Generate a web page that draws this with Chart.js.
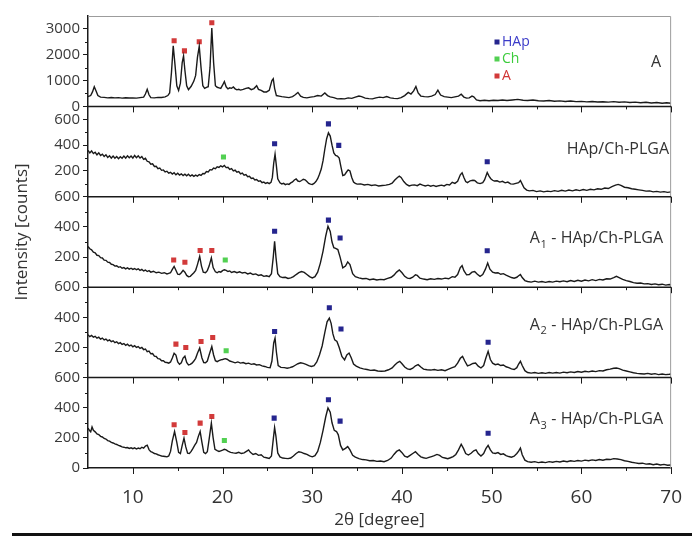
<!DOCTYPE html>
<html lang="en">
<head>
  <meta charset="UTF-8">
  <title>XRD - A, HAp/Ch-PLGA and A1-A3 composites</title>
  <script src="https://cdn.jsdelivr.net/npm/chart.js"></script>
  <style>
    body { margin: 0; background: #fff; }
    #wrap { position: relative; width: 692px; height: 536px; }
    #rule { position: absolute; left: 12px; right: 0; top: 533px; height: 3px; background: #111; }
  </style>
</head>
<body>
  <div id="wrap">
    <canvas id="xrd" width="692" height="536"></canvas>
    <div id="rule"></div>
  </div>

  <script>
    // diffractograms: [2theta, counts]
    const xrdA = [
      [5.0,380],[5.3,420],[5.5,560],[5.7,760],[5.9,600],[6.1,420],[6.4,360],[6.8,350],[7.2,330],[7.6,345],
      [8.0,330],[8.4,340],[8.8,320],[9.2,335],[9.6,325],[10.0,330],[10.4,320],[10.8,340],[11.2,360],[11.4,480],
      [11.6,660],[11.8,450],[12.0,340],[12.4,330],[12.8,350],[13.2,345],[13.6,370],[13.9,420],[14.1,520],[14.3,1300],
      [14.5,2350],[14.7,1600],[14.9,800],[15.1,620],[15.3,900],[15.5,1700],[15.65,1950],[15.8,1400],[16.0,800],[16.2,650],
      [16.5,780],[16.8,980],[17.0,1200],[17.2,1900],[17.4,2330],[17.6,1500],[17.8,800],[18.0,700],[18.2,740],[18.4,760],
      [18.6,1500],[18.8,3030],[19.0,1700],[19.2,800],[19.4,740],[19.6,720],[19.8,700],[20.0,820],[20.2,960],[20.4,760],
      [20.6,680],[20.8,720],[21.0,700],[21.2,750],[21.4,680],[21.6,640],[21.8,660],[22.0,630],[22.3,660],[22.6,700],
      [22.9,720],[23.2,650],[23.5,690],[23.8,800],[24.0,660],[24.3,620],[24.6,560],[24.9,560],[25.2,620],[25.5,1000],
      [25.65,1070],[25.8,700],[26.0,420],[26.3,400],[26.6,380],[27.0,360],[27.4,340],[27.8,380],[28.1,450],[28.4,540],
      [28.7,400],[29.0,350],[29.4,330],[29.8,360],[30.2,380],[30.6,420],[31.0,400],[31.4,520],[31.7,420],[32.0,370],
      [32.4,340],[32.8,290],[33.2,300],[33.6,290],[34.0,330],[34.4,310],[34.8,360],[35.2,400],[35.5,380],[35.9,320],
      [36.3,300],[36.7,290],[37.1,330],[37.5,360],[37.9,340],[38.3,380],[38.7,330],[39.1,310],[39.5,300],[39.9,340],
      [40.3,420],[40.7,540],[41.0,480],[41.3,600],[41.55,770],[41.8,520],[42.1,400],[42.5,380],[42.9,370],[43.3,400],
      [43.7,460],[44.0,630],[44.3,440],[44.7,380],[45.1,360],[45.5,340],[45.9,370],[46.3,400],[46.6,470],[46.9,360],
      [47.2,320],[47.5,330],[47.8,400],[48.0,370],[48.3,250],[48.7,220],[49.2,240],[49.7,220],[50.2,240],[50.7,230],
      [51.2,250],[51.7,230],[52.3,250],[52.9,270],[53.5,240],[54.0,230],[54.6,250],[55.2,220],[55.8,210],[56.4,230],
      [57.0,200],[57.6,215],[58.2,190],[58.8,210],[59.4,185],[60.0,195],[60.6,175],[61.2,190],[61.8,170],[62.4,180],
      [63.0,165],[63.6,185],[64.2,160],[64.8,175],[65.4,150],[66.0,165],[66.6,140],[67.2,160],[67.8,130],[68.4,150],
      [69.0,125],[69.5,140],[70.0,120]
    ];
    const xrdHAp = [
      [5.0,360],[5.2,340],[5.4,355],[5.6,335],[5.8,345],[6.0,325],[6.2,340],[6.4,320],[6.6,330],[6.8,312],
      [7.0,325],[7.2,305],[7.4,318],[7.6,300],[7.8,315],[8.0,298],[8.2,312],[8.4,295],[8.6,310],[8.8,298],
      [9.0,315],[9.2,300],[9.4,318],[9.6,302],[9.8,316],[10.0,300],[10.2,320],[10.4,303],[10.6,318],[10.8,300],
      [11.0,312],[11.2,290],[11.4,298],[11.6,275],[11.8,270],[12.0,252],[12.2,255],[12.4,235],[12.6,236],[12.8,218],
      [13.0,222],[13.2,205],[13.4,208],[13.6,192],[13.8,198],[14.0,183],[14.2,190],[14.4,176],[14.6,186],[14.8,170],
      [15.0,182],[15.2,168],[15.4,178],[15.6,165],[15.8,175],[16.0,162],[16.2,174],[16.4,160],[16.6,170],[16.8,158],
      [17.0,168],[17.2,160],[17.4,172],[17.6,165],[17.8,180],[18.0,178],[18.2,195],[18.4,192],[18.6,210],[18.8,208],
      [19.0,222],[19.2,218],[19.4,232],[19.6,228],[19.8,240],[20.0,232],[20.2,242],[20.4,226],[20.6,228],[20.8,212],
      [21.0,218],[21.2,200],[21.4,206],[21.6,190],[21.8,195],[22.0,178],[22.2,184],[22.4,168],[22.6,172],[22.8,155],
      [23.0,158],[23.2,142],[23.4,145],[23.6,130],[23.8,134],[24.0,120],[24.2,124],[24.4,110],[24.6,114],[24.8,103],
      [25.0,110],[25.2,102],[25.4,112],[25.55,150],[25.7,260],[25.85,330],[26.0,240],[26.15,140],[26.4,108],[26.6,100],
      [26.8,104],[27.0,94],[27.2,100],[27.4,96],[27.6,108],[27.8,115],[28.0,130],[28.2,138],[28.4,122],[28.6,118],
      [28.8,126],[29.0,136],[29.2,132],[29.4,118],[29.6,104],[29.8,98],[30.0,96],[30.2,104],[30.4,118],[30.6,140],
      [30.8,175],[31.0,215],[31.2,280],[31.4,370],[31.6,450],[31.8,495],[32.0,470],[32.2,400],[32.4,340],[32.6,320],
      [32.8,316],[33.0,300],[33.2,230],[33.4,165],[33.6,170],[33.8,190],[34.0,208],[34.2,200],[34.4,150],[34.6,115],
      [34.8,104],[35.0,98],[35.4,100],[35.8,92],[36.2,96],[36.6,88],[37.0,92],[37.4,84],[37.8,88],[38.2,90],
      [38.6,96],[38.9,105],[39.2,130],[39.5,150],[39.7,160],[39.9,150],[40.2,118],[40.5,96],[40.8,84],[41.1,90],
      [41.4,92],[41.7,86],[42.0,98],[42.3,90],[42.6,84],[42.9,90],[43.2,82],[43.5,88],[43.8,80],[44.1,86],
      [44.4,90],[44.7,84],[45.0,96],[45.3,92],[45.6,112],[45.9,104],[46.2,120],[46.5,170],[46.7,186],[46.9,150],
      [47.1,118],[47.3,110],[47.6,124],[47.9,128],[48.1,126],[48.4,108],[48.7,102],[49.0,110],[49.2,130],[49.5,188],
      [49.7,160],[49.9,140],[50.1,128],[50.3,122],[50.6,124],[50.9,114],[51.2,120],[51.5,108],[51.8,114],[52.1,100],
      [52.4,98],[52.7,104],[53.0,110],[53.2,126],[53.4,98],[53.6,70],[53.9,52],[54.2,46],[54.6,50],[55.0,40],
      [55.4,46],[55.8,38],[56.2,44],[56.6,40],[57.0,48],[57.4,42],[57.8,50],[58.2,44],[58.6,52],[59.0,46],
      [59.4,54],[59.8,48],[60.2,56],[60.6,50],[61.0,58],[61.4,54],[61.8,62],[62.2,58],[62.6,68],[63.0,64],
      [63.4,78],[63.8,90],[64.1,96],[64.4,88],[64.8,74],[65.2,70],[65.6,62],[66.0,58],[66.4,54],[66.8,50],
      [67.2,44],[67.6,46],[68.0,38],[68.4,42],[68.8,36],[69.2,40],[69.6,34],[70.0,38]
    ];
    const xrdA1 = [
      [5.0,270],[5.2,255],[5.4,248],[5.6,232],[5.8,228],[6.0,212],[6.2,210],[6.4,196],[6.6,194],[6.8,180],
      [7.0,178],[7.2,166],[7.4,164],[7.6,152],[7.8,150],[8.0,140],[8.2,142],[8.4,132],[8.6,136],[8.8,126],
      [9.0,130],[9.2,122],[9.4,128],[9.6,120],[9.8,126],[10.0,118],[10.2,124],[10.4,116],[10.6,122],[10.8,112],
      [11.0,118],[11.2,108],[11.4,114],[11.6,104],[11.8,110],[12.0,100],[12.3,106],[12.6,96],[12.9,100],[13.2,92],
      [13.5,96],[13.8,88],[14.0,92],[14.2,96],[14.4,118],[14.6,138],[14.8,112],[15.0,86],[15.2,84],[15.4,96],
      [15.6,112],[15.8,100],[16.0,78],[16.2,70],[16.4,72],[16.6,84],[16.8,96],[17.0,112],[17.2,150],[17.45,205],
      [17.65,140],[17.85,100],[18.1,96],[18.3,110],[18.5,140],[18.75,195],[18.95,130],[19.2,102],[19.4,96],[19.6,104],
      [19.8,100],[20.0,110],[20.2,116],[20.4,112],[20.6,104],[20.8,108],[21.0,98],[21.3,104],[21.6,96],[21.9,102],
      [22.2,94],[22.5,98],[22.8,88],[23.1,94],[23.4,84],[23.7,88],[24.0,78],[24.3,82],[24.6,72],[24.9,76],
      [25.2,70],[25.45,90],[25.65,200],[25.8,305],[25.95,200],[26.15,90],[26.4,70],[26.7,64],[27.0,66],[27.3,58],
      [27.6,62],[27.9,70],[28.2,84],[28.5,96],[28.8,104],[29.1,98],[29.4,84],[29.7,70],[30.0,62],[30.3,70],
      [30.6,100],[30.9,160],[31.2,240],[31.5,340],[31.75,405],[32.0,370],[32.2,300],[32.4,262],[32.6,258],[32.85,250],
      [33.1,200],[33.4,128],[33.7,140],[33.95,168],[34.2,150],[34.5,90],[34.8,70],[35.2,62],[35.6,56],[36.0,58],
      [36.4,50],[36.8,54],[37.2,48],[37.6,52],[38.0,50],[38.4,58],[38.8,66],[39.1,80],[39.4,100],[39.7,114],
      [40.0,96],[40.3,72],[40.6,60],[40.9,58],[41.2,66],[41.5,82],[41.7,78],[42.0,60],[42.4,54],[42.8,50],
      [43.2,56],[43.6,52],[44.0,58],[44.4,54],[44.8,60],[45.2,56],[45.6,70],[45.9,66],[46.2,84],[46.5,130],
      [46.7,143],[46.9,110],[47.2,82],[47.5,84],[47.8,100],[48.1,104],[48.4,86],[48.7,72],[49.0,84],[49.3,120],
      [49.55,160],[49.8,120],[50.1,100],[50.4,94],[50.7,96],[51.0,86],[51.3,90],[51.6,80],[51.9,72],[52.2,64],
      [52.5,60],[52.8,66],[53.0,76],[53.2,84],[53.4,64],[53.7,44],[54.0,38],[54.4,34],[54.8,40],[55.2,34],
      [55.6,38],[56.0,32],[56.4,38],[56.8,34],[57.2,40],[57.6,36],[58.0,42],[58.4,36],[58.8,44],[59.2,38],
      [59.6,46],[60.0,40],[60.4,48],[60.8,42],[61.2,50],[61.6,44],[62.0,52],[62.4,48],[62.8,56],[63.2,54],
      [63.6,64],[63.9,72],[64.2,64],[64.6,52],[65.0,44],[65.4,38],[65.8,30],[66.2,26],[66.6,28],[67.0,22],
      [67.4,24],[67.8,18],[68.2,22],[68.6,16],[69.0,20],[69.4,14],[69.8,18],[70.0,14]
    ];
    const xrdA2 = [
      [5.0,285],[5.2,272],[5.4,280],[5.6,268],[5.8,274],[6.0,262],[6.2,268],[6.4,255],[6.6,262],[6.8,250],
      [7.0,256],[7.2,244],[7.4,250],[7.6,238],[7.8,244],[8.0,232],[8.2,238],[8.4,226],[8.6,232],[8.8,220],
      [9.0,226],[9.2,214],[9.4,222],[9.6,210],[9.8,216],[10.0,204],[10.2,212],[10.4,200],[10.6,206],[10.8,194],
      [11.0,200],[11.2,186],[11.4,190],[11.6,172],[11.8,176],[12.0,158],[12.2,160],[12.4,142],[12.6,140],[12.8,126],
      [13.0,124],[13.2,112],[13.4,112],[13.6,102],[13.8,100],[14.0,96],[14.2,104],[14.4,130],[14.6,162],[14.8,150],
      [15.0,104],[15.2,88],[15.4,98],[15.6,130],[15.8,142],[16.0,100],[16.2,84],[16.4,88],[16.6,96],[16.8,110],
      [17.0,128],[17.2,162],[17.45,196],[17.7,130],[17.9,100],[18.1,98],[18.3,110],[18.5,150],[18.8,206],[19.0,150],
      [19.2,112],[19.4,106],[19.6,112],[19.8,118],[20.0,120],[20.3,126],[20.5,122],[20.8,110],[21.1,104],[21.4,98],
      [21.7,104],[22.0,96],[22.3,100],[22.6,92],[22.9,96],[23.2,88],[23.5,92],[23.8,84],[24.1,86],[24.4,78],
      [24.7,74],[25.0,68],[25.3,66],[25.5,110],[25.7,230],[25.85,262],[26.0,170],[26.2,80],[26.5,68],[26.9,66],
      [27.2,62],[27.5,66],[27.8,72],[28.1,82],[28.4,92],[28.7,98],[29.0,94],[29.3,88],[29.6,80],[29.9,74],
      [30.2,80],[30.5,104],[30.8,150],[31.1,210],[31.4,300],[31.65,370],[31.9,395],[32.1,360],[32.3,290],[32.5,250],
      [32.75,240],[33.0,200],[33.3,140],[33.6,118],[33.85,150],[34.1,163],[34.35,130],[34.6,90],[34.9,76],[35.3,64],
      [35.7,58],[36.1,54],[36.5,48],[36.9,50],[37.3,44],[37.7,42],[38.1,44],[38.5,52],[38.9,64],[39.2,84],
      [39.5,100],[39.75,108],[40.0,92],[40.3,70],[40.6,58],[40.9,54],[41.2,62],[41.5,78],[41.8,86],[42.1,70],
      [42.4,56],[42.8,52],[43.2,50],[43.6,54],[44.0,48],[44.4,52],[44.8,46],[45.2,56],[45.6,66],[45.9,72],
      [46.2,96],[46.5,128],[46.75,141],[47.0,110],[47.3,78],[47.6,84],[47.9,94],[48.2,97],[48.5,76],[48.8,64],
      [49.1,80],[49.35,130],[49.6,174],[49.85,120],[50.1,96],[50.4,86],[50.7,90],[51.0,80],[51.3,84],[51.6,72],
      [51.9,66],[52.2,58],[52.5,54],[52.8,66],[53.0,90],[53.2,108],[53.4,80],[53.7,46],[54.0,34],[54.4,30],
      [54.8,34],[55.2,28],[55.6,32],[56.0,28],[56.4,34],[56.8,30],[57.2,34],[57.6,30],[58.0,36],[58.4,32],
      [58.8,38],[59.2,34],[59.6,40],[60.0,36],[60.4,42],[60.8,38],[61.2,44],[61.6,40],[62.0,46],[62.4,44],
      [62.8,52],[63.2,56],[63.6,62],[63.9,64],[64.2,60],[64.6,50],[65.0,44],[65.4,38],[65.8,32],[66.2,28],
      [66.6,26],[67.0,24],[67.4,28],[67.8,22],[68.2,26],[68.6,20],[69.0,24],[69.4,20],[69.8,22],[70.0,24]
    ];
    const xrdA3 = [
      [5.0,265],[5.15,250],[5.3,240],[5.45,272],[5.6,250],[5.8,240],[6.0,226],[6.2,222],[6.4,210],[6.6,206],
      [6.8,196],[7.0,192],[7.2,182],[7.4,178],[7.6,170],[7.8,166],[8.0,160],[8.2,156],[8.4,150],[8.6,146],
      [8.8,140],[9.0,138],[9.2,134],[9.4,136],[9.6,130],[9.8,134],[10.0,128],[10.2,134],[10.4,126],[10.6,132],
      [10.8,128],[11.0,138],[11.2,132],[11.4,146],[11.6,152],[11.8,122],[12.0,108],[12.2,104],[12.4,96],[12.6,94],
      [12.8,88],[13.0,84],[13.2,80],[13.4,78],[13.6,76],[13.8,74],[14.0,80],[14.2,110],[14.4,180],[14.65,242],
      [14.9,170],[15.1,104],[15.3,96],[15.5,150],[15.7,198],[15.9,140],[16.1,98],[16.3,96],[16.5,110],[16.7,130],
      [16.9,152],[17.1,170],[17.3,210],[17.5,242],[17.7,170],[17.9,104],[18.1,96],[18.3,108],[18.5,190],[18.75,298],
      [18.95,200],[19.15,124],[19.4,116],[19.6,110],[19.8,114],[20.0,118],[20.2,124],[20.4,120],[20.6,112],[20.9,104],
      [21.2,100],[21.5,98],[21.8,104],[22.1,96],[22.4,100],[22.7,112],[22.9,120],[23.1,104],[23.4,90],[23.7,96],
      [24.0,84],[24.3,88],[24.6,72],[24.9,68],[25.2,64],[25.45,80],[25.65,190],[25.8,268],[25.95,210],[26.15,100],
      [26.4,74],[26.7,66],[27.0,64],[27.3,62],[27.6,66],[27.9,80],[28.2,96],[28.5,108],[28.8,104],[29.1,96],
      [29.4,90],[29.7,80],[30.0,74],[30.3,82],[30.6,110],[30.9,170],[31.2,250],[31.5,340],[31.75,398],[32.0,370],
      [32.2,300],[32.45,250],[32.7,242],[32.9,220],[33.15,150],[33.4,120],[33.7,130],[33.95,142],[34.2,120],[34.5,84],
      [34.8,72],[35.2,62],[35.6,56],[36.0,54],[36.4,48],[36.8,50],[37.2,44],[37.6,46],[38.0,42],[38.4,50],
      [38.8,66],[39.1,90],[39.4,110],[39.7,120],[40.0,102],[40.3,78],[40.6,72],[40.9,84],[41.2,96],[41.5,108],
      [41.8,90],[42.1,74],[42.4,68],[42.7,64],[43.0,70],[43.3,76],[43.6,82],[43.9,90],[44.2,84],[44.5,70],
      [44.8,66],[45.1,62],[45.4,68],[45.7,76],[46.0,90],[46.3,120],[46.6,158],[46.85,130],[47.1,96],[47.4,86],
      [47.7,98],[48.0,114],[48.25,120],[48.5,96],[48.8,80],[49.1,96],[49.35,128],[49.6,150],[49.85,120],[50.1,100],
      [50.4,96],[50.7,102],[51.0,90],[51.3,94],[51.6,82],[51.9,76],[52.2,72],[52.5,78],[52.8,96],[53.0,112],
      [53.2,132],[53.4,88],[53.7,52],[54.0,42],[54.4,38],[54.8,42],[55.2,36],[55.6,40],[56.0,36],[56.4,42],
      [56.8,38],[57.2,44],[57.6,40],[58.0,46],[58.4,42],[58.8,48],[59.2,44],[59.6,50],[60.0,46],[60.4,52],
      [60.8,48],[61.2,54],[61.6,50],[62.0,56],[62.4,52],[62.8,58],[63.2,56],[63.6,62],[64.0,60],[64.4,56],
      [64.8,48],[65.2,44],[65.6,38],[66.0,34],[66.4,30],[66.8,32],[67.2,26],[67.6,28],[68.0,22],[68.4,26],
      [68.8,20],[69.2,24],[69.6,18],[70.0,20]
    ];

    // phase markers above the reflections
    const peaksA_A = [[14.6,2540],[15.75,2150],[17.4,2500],[18.8,3240]];
    const peaksHAp_hap = [[25.8,411],[31.8,565],[32.95,398],[49.5,271]];
    const peaksHAp_ch = [[20.1,308]];
    const peaksA1_a = [[14.55,181],[15.8,166],[17.5,244],[18.8,244]];
    const peaksA1_ch = [[20.3,181]];
    const peaksA1_hap = [[25.8,371],[31.8,445],[33.1,327],[49.5,242]];
    const peaksA2_a = [[14.8,222],[15.9,200],[17.6,240],[18.9,266]];
    const peaksA2_ch = [[20.4,178]];
    const peaksA2_hap = [[25.8,306],[31.9,464],[33.2,323],[49.6,235]];
    const peaksA3_a = [[14.6,287],[15.8,236],[17.5,298],[18.8,342]];
    const peaksA3_ch = [[20.2,182]];
    const peaksA3_hap = [[25.75,331],[31.8,453],[33.1,311],[49.6,231]];

    // axis ticks
    const angleTicks = [10, 20, 30, 40, 50, 60, 70];
    const countTicks = [
      [0, 1000, 2000, 3000],
      [200, 400, 600],
      [200, 400, 600],
      [200, 400, 600],
      [0, 200, 400, 600]
    ];

    const panelIds = ['yA', 'yHAp', 'yA1', 'yA2', 'yA3'];
    const panelMax = [3500, 700, 600, 600, 600];
    const panelStep = [1000, 200, 200, 200, 200];
    // sample names: [main, subscript, rest]
    const panelNames = [
      ['A', '', ''],
      ['HAp/Ch-PLGA', '', ''],
      ['A', '1', ' - HAp/Ch-PLGA'],
      ['A', '2', ' - HAp/Ch-PLGA'],
      ['A', '3', ' - HAp/Ch-PLGA']
    ];
    const legendNames = ['HAp', 'Ch', 'A'];

    const FONT = '"Open Sans", sans-serif';
    const INK = '#1a1a1a';
    const C_HAP = '#25258e', C_CH = '#52d052', C_A = '#d23a3a';
    const TXT_HAP = '#3a3ac8', TXT_CH = '#3ccc3c', TXT_A = '#d03434';

    const curve = (data, axis) => ({
      type: 'line', data, yAxisID: axis,
      borderColor: INK, borderWidth: 1.4, pointRadius: 0, tension: 0, fill: false
    });
    const marks = (data, axis, color) => ({
      type: 'scatter', data, yAxisID: axis,
      pointStyle: 'rect', pointRadius: 3.6, backgroundColor: color, borderWidth: 0
    });

    function yAxis(i) {
      return {
        type: 'linear', position: 'left', stack: 'xrd', stackWeight: 1,
        weight: panelIds.length - i,
        min: 0, max: panelMax[i],
        ticks: {
          autoSkip: false, color: '#3a3a3a', padding: 3, font: { family: FONT, size: 15 },
          callback: v => String(v)
        },
        afterBuildTicks: s => { s.ticks = countTicks[i].map(v => ({ value: v })); },
        grid: { drawOnChartArea: false, tickLength: 5, color: INK },
        border: { color: INK, width: 1.5 },
        afterFit: s => { s.width = 88; }
      };
    }

    // separators, minor ticks, sample names, legend, y title
    const decor = {
      id: 'decor',
      afterDraw(chart) {
        const { ctx, chartArea: a, scales } = chart;
        const sx = scales.x;
        ctx.save();

        ctx.strokeStyle = '#9c9c9c';
        ctx.lineWidth = 1;
        ctx.beginPath();
        ctx.moveTo(a.left, a.top + 0.5);
        ctx.lineTo(a.right - 0.5, a.top + 0.5);
        ctx.lineTo(a.right - 0.5, a.bottom);
        ctx.stroke();

        panelIds.forEach((id, i) => {
          const s = scales[id];
          const yb = s.bottom;
          ctx.strokeStyle = INK;
          if (i < panelIds.length - 1) {
            ctx.lineWidth = 1.5;
            ctx.beginPath();
            ctx.moveTo(a.left, yb);
            ctx.lineTo(a.right, yb);
            ctx.stroke();
          }
          ctx.lineWidth = 1;
          ctx.beginPath();
          for (let v = 10; v <= 70; v += 5) {
            const px = Math.round(sx.getPixelForValue(v)) + 0.5;
            ctx.moveTo(px, yb);
            ctx.lineTo(px, yb + (v % 10 === 0 ? 6 : 3));
          }
          const half = panelStep[i] / 2;
          for (let v = half; v < panelMax[i]; v += panelStep[i]) {
            const py = Math.round(s.getPixelForValue(v)) + 0.5;
            ctx.moveTo(a.left, py);
            ctx.lineTo(a.left - 3, py);
          }
          ctx.stroke();

          // sample name, right aligned
          const [main, sub, rest] = panelNames[i];
          const big = '16px ' + FONT, small = '11px ' + FONT;
          ctx.font = big;
          const wMain = ctx.measureText(main).width, wRest = ctx.measureText(rest).width;
          ctx.font = small;
          const wSub = sub ? ctx.measureText(sub).width + 1 : 0;
          const right = i === 0 ? 661 : (i === 1 ? 669 : 663);
          let tx = right - (wMain + wSub + wRest);
          const ty = s.top + [46, 43, 42, 38, 42][i];
          ctx.fillStyle = '#333';
          ctx.textBaseline = 'middle';
          ctx.textAlign = 'left';
          ctx.font = big;
          ctx.fillText(main, tx, ty);
          tx += wMain;
          if (sub) {
            ctx.font = small;
            ctx.fillText(sub, tx + 0.5, ty + 6);
            tx += wSub;
          }
          ctx.font = big;
          ctx.fillText(rest, tx, ty);
        });

        // legend
        const lx = 497;
        [[C_HAP, TXT_HAP, 42], [C_CH, TXT_CH, 59], [C_A, TXT_A, 76]].forEach(([sq, txt, ly], k) => {
          ctx.fillStyle = sq;
          ctx.fillRect(lx - 2.5, ly - 2.5, 5, 5);
          ctx.fillStyle = txt;
          ctx.font = '14px ' + FONT;
          ctx.textBaseline = 'middle';
          ctx.textAlign = 'left';
          ctx.fillText(legendNames[k], lx + 5, ly);
        });

        // y title across the whole stack
        ctx.translate(22, 232);
        ctx.rotate(-Math.PI / 2);
        ctx.fillStyle = '#333';
        ctx.font = '17px ' + FONT;
        ctx.textAlign = 'center';
        ctx.textBaseline = 'middle';
        ctx.fillText('Intensity [counts]', 0, 0);
        ctx.restore();
      }
    };

    const scales = {
      x: {
        type: 'linear', position: 'bottom', min: 5, max: 70,
        ticks: { autoSkip: false, color: '#333', padding: 10, font: { family: FONT, size: 19 } },
        afterBuildTicks: s => { s.ticks = angleTicks.map(v => ({ value: v })); },
        grid: { display: false },
        border: { color: INK, width: 1.5 },
        title: { display: true, text: '2θ [degree]', color: '#333', padding: 0, font: { family: FONT, size: 17 } },
        afterFit: s => { s.height = 62; }
      }
    };
    panelIds.forEach((id, i) => { scales[id] = yAxis(i); });

    new Chart(document.getElementById('xrd'), {
      data: {
        datasets: [
          curve(xrdA, 'yA'),
          marks(peaksA_A, 'yA', C_A),
          curve(xrdHAp, 'yHAp'),
          marks(peaksHAp_hap, 'yHAp', C_HAP),
          marks(peaksHAp_ch, 'yHAp', C_CH),
          curve(xrdA1, 'yA1'),
          marks(peaksA1_a, 'yA1', C_A),
          marks(peaksA1_ch, 'yA1', C_CH),
          marks(peaksA1_hap, 'yA1', C_HAP),
          curve(xrdA2, 'yA2'),
          marks(peaksA2_a, 'yA2', C_A),
          marks(peaksA2_ch, 'yA2', C_CH),
          marks(peaksA2_hap, 'yA2', C_HAP),
          curve(xrdA3, 'yA3'),
          marks(peaksA3_a, 'yA3', C_A),
          marks(peaksA3_ch, 'yA3', C_CH),
          marks(peaksA3_hap, 'yA3', C_HAP)
        ]
      },
      options: {
        responsive: false,
        animation: false,
        layout: { padding: { left: 0, right: 15, top: 16, bottom: 6 } },
        plugins: { legend: { display: false }, tooltip: { enabled: false } },
        scales
      },
      plugins: [decor]
    });
  </script>
</body>
</html>
